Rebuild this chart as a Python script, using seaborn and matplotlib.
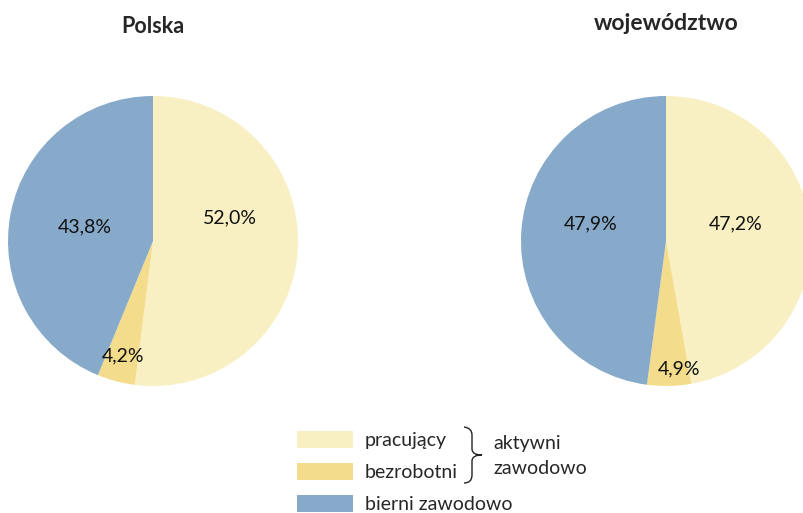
import matplotlib
matplotlib.use("Agg")
import matplotlib.pyplot as plt
from matplotlib.patches import Patch, PathPatch
from matplotlib.path import Path
import seaborn as sns

sns.set_theme(style="white")
plt.rcParams["font.family"] = ["Lato", "DejaVu Sans"]

categories = ["pracujący", "bezrobotni", "bierni zawodowo"]
polska = [52.0, 4.2, 43.8]
wojewodztwo = [47.2, 4.9, 47.9]
titles = ["Polska", "województwo"]
colors = ["#F8F0C2", "#F3DD8D", "#87AACB"]

# label positions inside each pie (axes data coords, radius 1)
label_pos = [
    [(0.53, 0.16), (-0.21, -0.79), (-0.47, 0.10)],
    [(0.48, 0.12), (0.09, -0.88), (-0.52, 0.12)],
]

W, H = 804, 513
fig = plt.figure(figsize=(W / 100, H / 100), dpi=100)

centers = [(153, 241), (666, 241)]
r = 145
for i, (vals, (cx, cy)) in enumerate(zip([polska, wojewodztwo], centers)):
    ax = fig.add_axes([(cx - r) / W, (H - cy - r) / H, 2 * r / W, 2 * r / H])
    wedges, texts, autotexts = ax.pie(
        vals, colors=colors, startangle=90, counterclock=False,
        autopct=lambda p: f"{p:.1f}%".replace(".", ","),
        wedgeprops=dict(linewidth=0), textprops=dict(fontsize=14, color="#111111"),
    )
    for t, pos in zip(autotexts, label_pos[i]):
        t.set_position(pos)
    ax.set_xlim(-1, 1)
    ax.set_ylim(-1, 1)
    ax.set_aspect("equal")
    ax.axis("off")

fig.text(153 / W, 1 - 27 / H, titles[0], ha="center", va="center",
         fontsize=15.5, fontweight="bold")
fig.text(666 / W, 1 - 24 / H, titles[1], ha="center", va="center",
         fontsize=16.5, fontweight="bold")

handles = [Patch(facecolor=c, edgecolor="none") for c in colors]
fig.legend(handles, categories, loc="upper left",
           bbox_to_anchor=(297 / W, 1 - 431 / H), frameon=False,
           fontsize=14, handlelength=2.88, handleheight=0.98,
           labelspacing=0.7, handletextpad=0.62, borderpad=0,
           borderaxespad=0)

# curly brace grouping the first two legend entries (figure pixel coords)
def px(x, y):
    return (x / W, 1 - y / H)

verts = [px(464, 427), px(472, 428), px(472, 435), px(472, 449),
         px(472, 455), px(482, 455), px(482, 455),
         px(472, 455), px(472, 461), px(472, 475),
         px(472, 483), px(464, 483)]
codes = [Path.MOVETO, Path.CURVE3, Path.CURVE3, Path.LINETO,
         Path.CURVE3, Path.CURVE3, Path.MOVETO,
         Path.CURVE3, Path.CURVE3, Path.LINETO,
         Path.CURVE3, Path.CURVE3]
fig.add_artist(PathPatch(Path(verts, codes), transform=fig.transFigure,
                         facecolor="none", edgecolor="#222222", linewidth=1.0))

fig.text(493 / W, 1 - 444 / H, "aktywni", ha="left", va="center", fontsize=14)
fig.text(493 / W, 1 - 469 / H, "zawodowo", ha="left", va="center", fontsize=14)

fig.savefig("out.png", dpi=100)
